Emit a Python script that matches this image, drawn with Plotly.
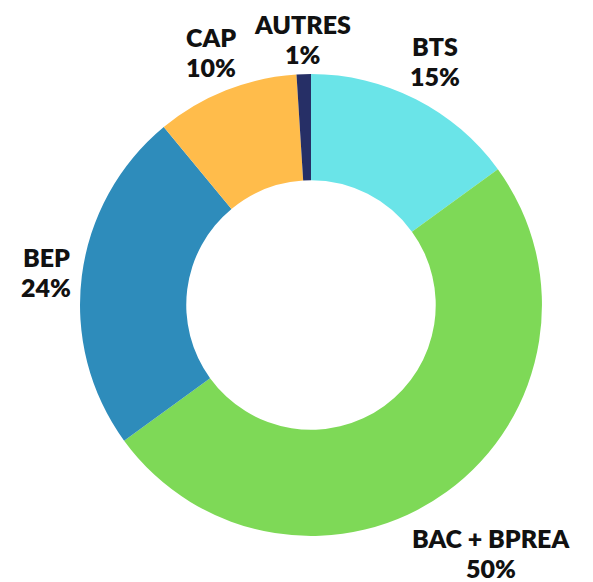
import math
import plotly.graph_objects as go

labels = ["BTS", "BAC + BPREA", "BEP", "CAP", "AUTRES"]
values = [15, 50, 24, 10, 1]
colors = ["#6AE4E8", "#7ED957", "#2E8CBB", "#FFBC4B", "#262F66"]

W, H = 593, 582
FONT_SIZE = 25
LINE_PITCH = 30
# pie geometry in screen pixels
CX, CY, R = 311, 305, 231
LABEL_CLEAR = 238  # radius the label boxes must clear

fig = go.Figure(go.Pie(
    labels=labels,
    values=values,
    hole=0.54,
    sort=False,
    direction="clockwise",
    rotation=0,
    marker=dict(colors=colors, line=dict(width=0)),
    textinfo="none",
    hoverinfo="label+percent",
    showlegend=False,
    domain=dict(x=[(CX - R) / W, (CX + R) / W], y=[1 - (CY + R) / H, 1 - (CY - R) / H]),
))


def text_width(s):
    w = 0.0
    for ch in s:
        if ch == " ":
            w += 0.22
        elif ch == "%":
            w += 0.85
        elif ch.isdigit():
            w += 0.6
        elif ch == "+":
            w += 0.6
        else:
            w += 0.66
    return w * FONT_SIZE


total = sum(values)
cum = 0.0
annotations = []
font = dict(family="Lato", size=FONT_SIZE, color="#111111", weight=800)
for lab, v in zip(labels, values):
    mid = (cum + v / 2) / total * 2 * math.pi
    cum += v
    pct = f"{round(100 * v / total)}%"
    dx, dy = math.sin(mid), -math.cos(mid)
    hw = max(text_width(lab), text_width(pct)) / 2
    hh = 27
    d = LABEL_CLEAR + hw * abs(dx) + hh * abs(dy)
    px, py = CX + d * dx, CY + d * dy
    for line, oy in ((lab, -LINE_PITCH / 2), (pct, LINE_PITCH / 2)):
        annotations.append(dict(
            x=px / W, y=1 - (py + oy) / H, xref="paper", yref="paper",
            xanchor="center", yanchor="middle",
            text=line, showarrow=False, font=font, align="center",
        ))

fig.update_layout(
    width=W, height=H,
    margin=dict(l=0, r=0, t=0, b=0),
    paper_bgcolor="white",
    plot_bgcolor="white",
    annotations=annotations,
)
fig.write_html(
    "out.html",
    config={"displayModeBar": False},
    post_script="document.body.style.margin='0';document.documentElement.style.overflow='hidden';",
)
